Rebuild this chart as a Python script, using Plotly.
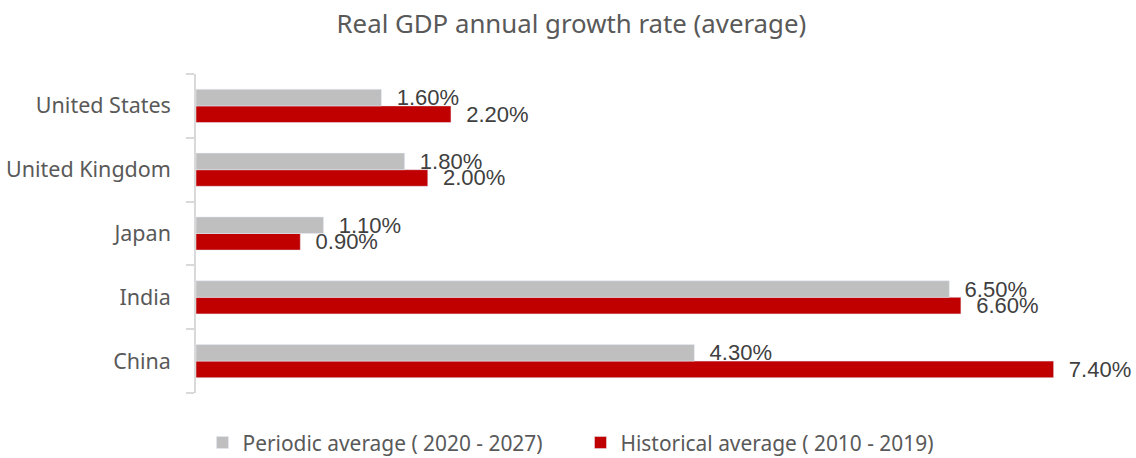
import plotly.graph_objects as go

countries = ["China", "India", "Japan", "United Kingdom", "United States"]
periodic = [4.3, 6.5, 1.1, 1.8, 1.6]
historical = [7.4, 6.6, 0.9, 2.0, 2.2]
periodic_name = "Periodic average ( 2020 - 2027)"
historical_name = "Historical average ( 2010 - 2019)"

pad = "\u00a0\u00a0"
label_font = dict(family="Liberation Sans, Arial", size=22, color="#404040")
fig = go.Figure()
fig.add_trace(go.Bar(
    y=countries, x=historical, orientation="h", name=historical_name,
    marker=dict(color="#c00000"),
    text=[pad + f"{v:.2f}%" for v in historical], textposition="outside",
    textfont=label_font, constraintext="none",
    cliponaxis=False, legendrank=2,
))
fig.add_trace(go.Bar(
    y=countries, x=periodic, orientation="h", name=periodic_name,
    marker=dict(color="#bfbfbf"),
    text=[pad + f"{v:.2f}%" for v in periodic], textposition="outside",
    textfont=label_font, constraintext="none",
    cliponaxis=False, legendrank=1,
))

fig.update_layout(
    width=1136, height=458,
    margin=dict(l=196, r=36, t=74, b=65, autoexpand=False),
    paper_bgcolor="white", plot_bgcolor="white",
    barmode="group", bargap=0.48, bargroupgap=0,
    font=dict(family="Noto Sans", color="#595959"),
    title=dict(text="Real GDP annual growth rate (average)",
               x=0.503, xref="container", xanchor="center",
               y=0.948, yref="container", yanchor="middle",
               font=dict(size=25.8, color="#595959")),
    xaxis=dict(range=[0, 7.8], visible=False, showgrid=False, automargin=False),
    yaxis=dict(showline=True, linecolor="#d9d9d9", linewidth=1.5, automargin=False,
               ticks="outside", tickson="boundaries", ticklen=8, tickcolor="#d9d9d9",
               tickwidth=1.5, showgrid=False,
               tickfont=dict(size=21.5, color="#595959"), ticklabelstandoff=19),
    legend=dict(orientation="h", xref="container", x=0.511, xanchor="center",
                yref="container", y=0.033, yanchor="middle",
                entrywidth=333,
                font=dict(size=20.9, color="#595959")),
    showlegend=True,
)

fig.write_html("out.html")
